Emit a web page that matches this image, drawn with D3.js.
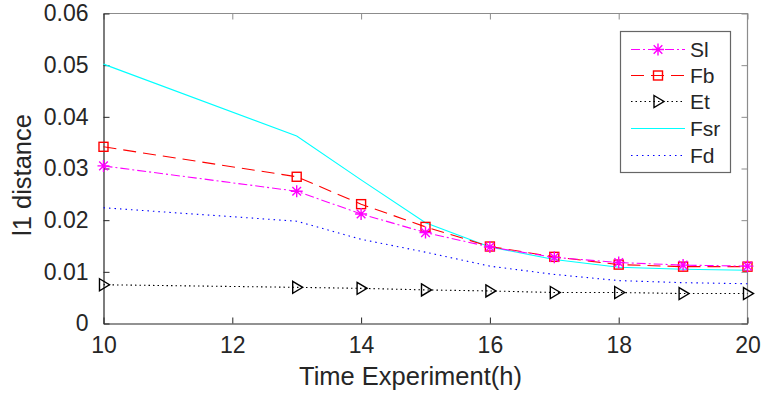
<!DOCTYPE html>
<html>
<head>
<meta charset="utf-8">
<script src="https://cdn.jsdelivr.net/npm/d3@7"></script>
<style>
html,body{margin:0;padding:0;background:#fff;}
svg{display:block;font-family:"Liberation Sans",Arial,sans-serif;}
</style>
</head>
<body>
<svg id="chart" width="762" height="398"></svg>
<script>
const hours = [10, 13, 14, 15, 16, 17, 18, 19, 20];
const slValues  = [0.0305, 0.0256, 0.0212, 0.0176, 0.0148, 0.0128, 0.0118, 0.0113, 0.0111];
const fbValues  = [0.0342, 0.0284, 0.0231, 0.0187, 0.0149, 0.0129, 0.0114, 0.0110, 0.0110];
const etValues  = [0.0075, 0.0070, 0.0068, 0.0065, 0.0063, 0.0060, 0.0060, 0.0058, 0.0058];
const fsrValues = [0.0502, 0.0363, 0.0278, 0.0195, 0.0148, 0.0124, 0.0109, 0.0105, 0.0103];
const fdValues  = [0.0224, 0.0198, 0.0163, 0.0138, 0.0111, 0.0095, 0.0083, 0.0079, 0.0077];
const seriesNames = ["Sl", "Fb", "Et", "Fsr", "Fd"];
const xTicks = [10, 12, 14, 16, 18, 20];
const yTicks = [0, 0.01, 0.02, 0.03, 0.04, 0.05, 0.06];
const xLabel = "Time Experiment(h)";
const yLabel = "l1 distance";

const series = [
  {name: seriesNames[0], values: slValues,  color: "#ff00ff", dash: "9,3,2,3", marker: "star"},
  {name: seriesNames[1], values: fbValues,  color: "#ff0000", dash: "13,7",    marker: "square"},
  {name: seriesNames[2], values: etValues,  color: "#000000", dash: "1.5,3",   marker: "triangle"},
  {name: seriesNames[3], values: fsrValues, color: "#00ffff", dash: null,      marker: null},
  {name: seriesNames[4], values: fdValues,  color: "#0000ff", dash: "1.5,4",   marker: null}
];

const L = 103.5, R = 747.5, T = 13.5, B = 323.5;
const svg = d3.select("#chart");
const x = d3.scaleLinear().domain([10, 20]).range([L, R]);
const y = d3.scaleLinear().domain([0, 0.06]).range([B, T]);
const fontCol = "#262626";
const FF = "Liberation Sans, Arial, sans-serif";

// top & right frame (gray)
svg.append("path").attr("d", `M${L},${T}H${R}V${B}`).attr("fill","none").attr("stroke","#8c8c8c").attr("stroke-width",1.2);

const gTop = svg.append("g").attr("transform",`translate(0,${T})`)
  .call(d3.axisTop(x).tickValues(xTicks).tickSize(-6).tickFormat(""));
gTop.select(".domain").remove();
gTop.selectAll("line").attr("stroke","#8c8c8c");
const gRight = svg.append("g").attr("transform",`translate(${R},0)`)
  .call(d3.axisRight(y).tickValues(yTicks).tickSize(-6).tickFormat(""));
gRight.select(".domain").remove();
gRight.selectAll("line").attr("stroke","#8c8c8c");

// bottom axis
const gx = svg.append("g").attr("transform",`translate(0,${B})`)
  .call(d3.axisBottom(x).tickValues(xTicks).tickSizeInner(-6).tickSizeOuter(0).tickPadding(13).tickFormat(d3.format("d")));
gx.select(".domain").attr("stroke",fontCol).attr("stroke-width",1.2);
gx.selectAll("line").attr("stroke",fontCol);
gx.selectAll("text").attr("font-size",23).attr("fill",fontCol).attr("font-family",FF);

// left axis
const gy = svg.append("g").attr("transform",`translate(${L},0)`)
  .call(d3.axisLeft(y).tickValues(yTicks).tickSizeInner(-6).tickSizeOuter(0).tickPadding(15)
    .tickFormat(d => d === 0 ? "0" : d3.format(".2f")(d)));
gy.select(".domain").attr("stroke",fontCol).attr("stroke-width",1.2);
gy.selectAll("line").attr("stroke",fontCol);
gy.selectAll("text").attr("font-size",23).attr("fill",fontCol).attr("font-family",FF);

// axis labels
svg.append("text").attr("x",410.5).attr("y",385).attr("text-anchor","middle")
  .attr("font-size",25.5).attr("fill",fontCol).attr("font-family",FF).text(xLabel);
svg.append("text").attr("transform",`translate(31,175) rotate(-90)`).attr("text-anchor","middle")
  .attr("font-size",25.5).attr("fill",fontCol).attr("font-family",FF).text(yLabel);

function drawMarker(g, type, cx, cy, color) {
  if (type === "star") {
    const s = 6;
    g.append("path")
      .attr("d",`M${cx-s},${cy}H${cx+s}M${cx},${cy-s}V${cy+s}M${cx-s*0.72},${cy-s*0.72}L${cx+s*0.72},${cy+s*0.72}M${cx-s*0.72},${cy+s*0.72}L${cx+s*0.72},${cy-s*0.72}`)
      .attr("stroke",color).attr("stroke-width",1.4).attr("fill","none");
  } else if (type === "square") {
    g.append("rect").attr("x",cx-4.5).attr("y",cy-4.5).attr("width",9).attr("height",9)
      .attr("fill","none").attr("stroke",color).attr("stroke-width",1.4);
  } else if (type === "triangle") {
    g.append("path").attr("d",`M${cx-4},${cy-6}L${cx+6},${cy}L${cx-4},${cy+6}Z`)
      .attr("fill","none").attr("stroke",color).attr("stroke-width",1.4);
  }
}

const plot = svg.append("g");
const line = d3.line().x((d,i)=>x(hours[i])).y(d=>y(d));
[4,3,2,1,0].forEach(si => {
  const s = series[si];
  const p = plot.append("path").datum(s.values).attr("d",line)
    .attr("fill","none").attr("stroke",s.color).attr("stroke-width",1.1);
  if (s.dash) p.attr("stroke-dasharray",s.dash);
  if (s.marker) {
    s.values.forEach((v,i)=>drawMarker(plot, s.marker, x(hours[i]), y(v), s.color));
  }
});

// legend
const lg = svg.append("g");
const lx = 620.5, ly = 31.5, lw = 110, lh = 141;
lg.append("rect").attr("x",lx).attr("y",ly).attr("width",lw).attr("height",lh)
  .attr("fill","#fff").attr("stroke","#666").attr("stroke-width",1.2);
const rowY = [49.5, 75.5, 101.5, 128.5, 155.5];
series.forEach((s,i)=>{
  const yy = rowY[i];
  const l = lg.append("line").attr("x1",631).attr("x2",685).attr("y1",yy).attr("y2",yy)
    .attr("stroke",s.color).attr("stroke-width",1.1);
  if (s.dash) l.attr("stroke-dasharray",s.dash);
  if (s.marker) drawMarker(lg, s.marker, 658, yy, s.color);
  lg.append("text").attr("x",690).attr("y",yy+7.5).attr("font-size",21).attr("fill",fontCol).attr("font-family",FF).text(s.name);
});
</script>
</body>
</html>
